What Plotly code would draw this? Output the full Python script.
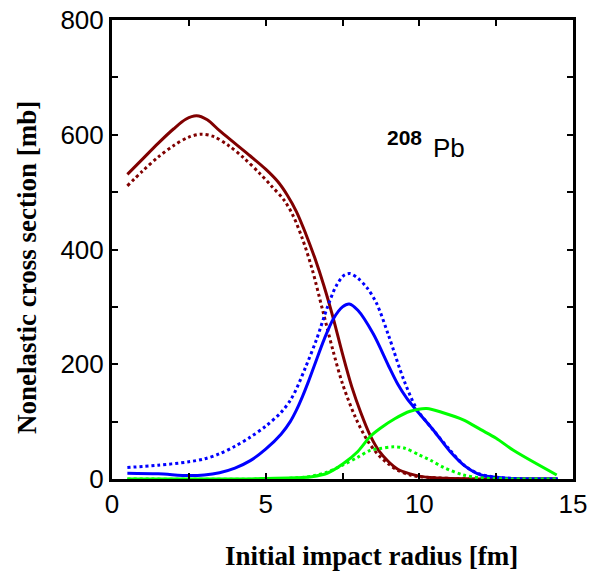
import plotly.graph_objects as go

# ---- data ----
red_solid_x = [0.5, 1.0, 1.5, 2.0, 2.4, 2.75, 3.1, 3.5, 4.0, 4.5, 5.0, 5.4, 5.7, 6.0, 6.3, 6.6, 6.9, 7.2, 7.5, 7.8, 8.1, 8.4, 8.7, 9.0, 9.3, 9.7, 10.0, 10.5, 11.0, 12.0, 13.0, 14.5]
red_solid_y = [531, 558, 585, 610, 627, 633, 626, 607, 585, 563, 540, 518, 495, 466, 428, 385, 336, 280, 218, 161, 115, 76, 48, 30, 17, 9, 5, 2, 1, 0, 0, 0]

red_dot_x = [0.5, 1.0, 1.5, 2.0, 2.5, 2.9, 3.3, 3.8, 4.3, 4.8, 5.2, 5.6, 5.9, 6.2, 6.5, 6.85, 7.2, 7.5, 7.9, 8.3, 8.7, 9.0, 9.3, 9.7, 10.0, 11.0, 12.0, 14.5]
red_dot_y = [511, 537, 561, 581, 596, 601, 597, 581, 559, 533, 510, 486, 458, 418, 368, 295, 222, 166, 110, 68, 40, 26, 15, 7, 4, 1, 0, 0]

blue_solid_x = [0.5, 1.5, 2.5, 3.0, 3.5, 4.0, 4.5, 5.0, 5.5, 5.8, 6.0, 6.2, 6.4, 6.6, 6.9, 7.2, 7.5, 7.72, 8.0, 8.5, 9.0, 9.3, 9.6, 9.92, 10.46, 11.0, 11.5, 12.0, 13.0, 14.5]
blue_solid_y = [10, 9, 6, 7, 11, 19, 32, 52, 78, 100, 120, 144, 171, 200, 243, 279, 300, 305, 294, 253, 197, 165, 140, 119, 85, 48, 22, 7, 1, 0]

blue_dot_x = [0.5, 1.5, 2.5, 3.0, 3.5, 4.0, 4.5, 5.0, 5.5, 5.8, 6.0, 6.3, 6.66, 7.0, 7.3, 7.55, 7.74, 8.0, 8.3, 8.61, 9.0, 9.5, 9.92, 10.46, 11.0, 11.5, 12.0, 13.0, 14.5]
blue_dot_y = [20, 24, 30, 35, 44, 57, 73, 92, 116, 137, 157, 195, 244, 298, 337, 355, 358, 350, 333, 306, 250, 172, 122, 85, 50, 22, 8, 1, 0]

green_solid_x = [0.5, 2.0, 4.0, 5.0, 6.0, 6.5, 7.0, 7.53, 8.0, 8.4, 8.72, 9.2, 9.7, 10.24, 10.8, 11.43, 12.0, 12.5, 13.06, 14.47]
green_solid_y = [0, 0, 0, 1, 2, 4, 10, 27, 48, 74, 88, 105, 118, 123, 115, 103, 86, 71, 50, 7]

green_dot_x = [0.5, 5.0, 6.0, 6.5, 7.0, 7.5, 8.0, 8.4, 8.72, 9.15, 9.5, 10.0, 10.35, 10.8, 11.43, 12.0, 13.0, 14.5]
green_dot_y = [0, 0, 2, 5, 12, 24, 38, 50, 53, 56, 54, 42, 33, 20, 7, 2, 0, 0]

x_tickvals = [0, 2.5, 5, 7.5, 10, 12.5, 15]
x_ticktext = ["0", "", "5", "", "10", "", "15"]
y_tickvals = [0, 100, 200, 300, 400, 500, 600, 700, 800]
y_ticktext = ["0", "", "200", "", "400", "", "600", "", "800"]

DARKRED = "#800000"
BLUE = "#0000ff"
GREEN = "#00ff00"

series = [
    (red_solid_x, red_solid_y, DARKRED, "solid"),
    (red_dot_x, red_dot_y, DARKRED, "3px,3px"),
    (blue_solid_x, blue_solid_y, BLUE, "solid"),
    (blue_dot_x, blue_dot_y, BLUE, "3px,3px"),
    (green_solid_x, green_solid_y, GREEN, "solid"),
    (green_dot_x, green_dot_y, GREEN, "3px,3px"),
]

fig = go.Figure()
for xs, ys, col, dash in series:
    fig.add_trace(go.Scatter(
        x=xs, y=ys, mode="lines",
        line=dict(color=col, width=3, dash=dash, shape="spline", smoothing=0.9),
        showlegend=False, hoverinfo="skip",
    ))

axis_common = dict(
    showline=True, linecolor="black", linewidth=3, mirror="ticks",
    ticks="inside", ticklen=6, tickwidth=2, tickcolor="black",
    showgrid=False, zeroline=False, automargin=False,
    tickfont=dict(family="Liberation Sans, Arial, sans-serif", size=26, color="black"),
)

fig.update_xaxes(range=[0, 15], tickmode="array", tickvals=x_tickvals, ticktext=x_ticktext, **axis_common)
fig.update_yaxes(range=[0, 800], tickmode="array", tickvals=y_tickvals, ticktext=y_ticktext, **axis_common)

fig.add_annotation(text="<b>Initial impact radius [fm]</b>", xref="paper", yref="paper",
                   x=(371.7 - 112) / 461, y=(479 - 556) / 459, xanchor="center", yanchor="middle",
                   showarrow=False,
                   font=dict(family="Liberation Serif, Times New Roman, serif", size=27, color="black"))
fig.add_annotation(text="<b>Nonelastic cross section [mb]</b>", xref="paper", yref="paper",
                   x=(27 - 112) / 461, y=(479 - 268) / 459, xanchor="center", yanchor="middle",
                   textangle=-90, showarrow=False,
                   font=dict(family="Liberation Serif, Times New Roman, serif", size=27, color="black"))

fig.add_annotation(text="<b>208</b>", xref="paper", yref="paper",
                   x=(404 - 112) / 461, y=(479 - 137) / 459, xanchor="center", yanchor="middle",
                   showarrow=False, font=dict(family="Liberation Sans, Arial, sans-serif", size=21, color="black"))
fig.add_annotation(text="Pb", xref="paper", yref="paper",
                   x=(449 - 112) / 461, y=(479 - 148) / 459, xanchor="center", yanchor="middle",
                   showarrow=False, font=dict(family="Liberation Sans, Arial, sans-serif", size=26, color="black"))

fig.update_layout(
    width=589, height=572,
    margin=dict(l=112, r=16, t=20, b=93),
    paper_bgcolor="white", plot_bgcolor="white",
)

fig.write_html("out.html")
